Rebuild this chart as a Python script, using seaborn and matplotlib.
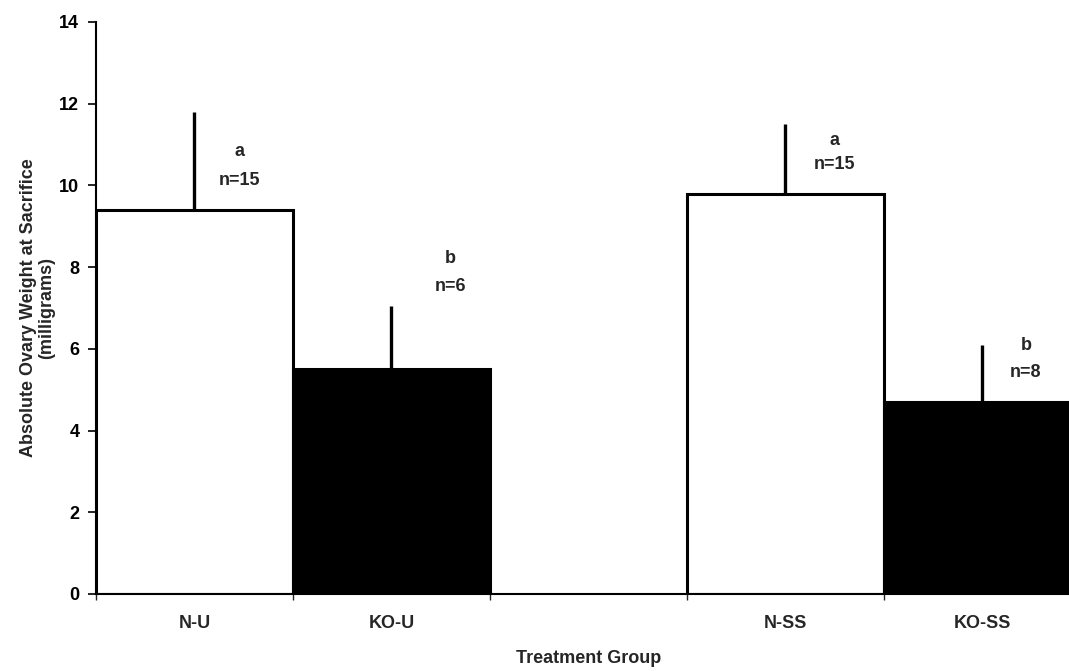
import numpy as np
import pandas as pd
import seaborn as sns
import matplotlib.pyplot as plt

sns.set_style('ticks')
plt.rcParams['font.family'] = ['Liberation Sans', 'DejaVu Sans']

groups = ['N-U', 'KO-U', ' ', 'N-SS', 'KO-SS']
bar_groups = ['N-U', 'KO-U', 'N-SS', 'KO-SS']
weights = [9.4, 5.5, 9.8, 4.7]
err_up = [2.4, 1.55, 1.7, 1.4]
genotype = ['N', 'KO', 'N', 'KO']
letters = ['a', 'b', 'a', 'b']
n_labels = ['n=15', 'n=6', 'n=15', 'n=8']

df = pd.DataFrame({'group': bar_groups, 'weight': weights, 'genotype': genotype})

fig = plt.figure(figsize=(10.69, 6.71), dpi=100)
ax = fig.add_axes([0.0898, 0.1148, 0.9214, 0.8525])

sns.barplot(data=df, x='group', y='weight', hue='genotype', order=groups,
            palette={'N': 'white', 'KO': 'black'}, width=1.0, dodge=False,
            edgecolor='black', linewidth=2.2, errorbar=None, legend=False, ax=ax)

# upward-only error bars, no caps
pos = [groups.index(g) for g in bar_groups]
ax.errorbar(pos, weights, yerr=[np.zeros(len(err_up)), err_up], fmt='none',
            ecolor='black', elinewidth=2.4, capsize=0, zorder=1)

# significance letters and sample sizes
label_dx = [0.23, 0.30, 0.25, 0.22]
letter_y = [10.82, 8.22, 11.11, 6.07]
n_y = [10.11, 7.52, 10.50, 5.43]
for p, dx, ly, ny, l, n in zip(pos, label_dx, letter_y, n_y, letters, n_labels):
    ax.text(p + dx, ly, l, ha='center', va='center', fontsize=13, fontweight='bold')
    ax.text(p + dx, ny, n, ha='center', va='center', fontsize=13, fontweight='bold')

ax.set_xlim(-0.5, len(groups) - 0.5)
ax.set_ylim(0, 14)
ax.set_yticks(range(0, 15, 2))
ax.set_xticks(range(len(groups)))
ax.set_xticklabels(groups, fontsize=13, fontweight='bold')
ax.set_xticks(np.arange(-0.5, len(groups), 1), minor=True)
ax.tick_params(axis='x', which='major', length=0, pad=15)
ax.tick_params(axis='x', which='minor', length=4, width=1, direction='out')
ax.tick_params(axis='y', length=6, width=1.2, labelsize=13, colors='black', pad=6)
for t in ax.get_yticklabels():
    t.set_fontweight('bold')

ax.set_xlabel('Treatment Group', fontsize=13, fontweight='bold', labelpad=13)
ax.set_ylabel('Absolute Ovary Weight at Sacrifice\n(milligrams)', fontsize=13,
              fontweight='bold', labelpad=3, linespacing=1.1)

sns.despine(ax=ax)
ax.spines['left'].set_linewidth(1.5)
ax.spines['bottom'].set_linewidth(1.5)
ax.spines['left'].set_color('black')
ax.spines['bottom'].set_color('black')

fig.savefig('out.png', dpi=100)
